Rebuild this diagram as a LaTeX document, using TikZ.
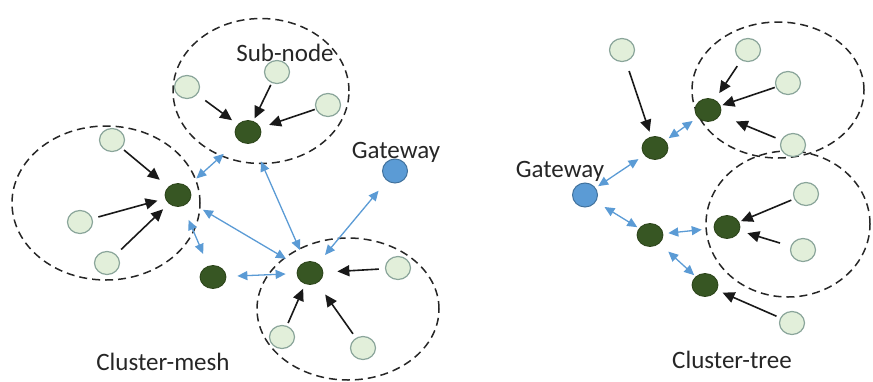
\documentclass[tikz,border=0pt]{standalone}
\usepackage{fontspec}
\setmainfont{Carlito}
\usetikzlibrary{shapes.geometric,arrows.meta}
\definecolor{leaffill}{HTML}{E2EFDA}
\definecolor{leafedge}{HTML}{8AA59A}
\definecolor{headfill}{HTML}{375623}
\definecolor{headedge}{HTML}{2A4218}
\definecolor{gwfill}{HTML}{5B9BD5}
\definecolor{gwedge}{HTML}{41719C}
\definecolor{linkblue}{HTML}{5B9BD5}
\definecolor{txt}{HTML}{262626}
\tikzset{
  leaf/.style={ellipse, draw=leafedge, fill=leaffill, line width=1.2pt,
    minimum width=25pt, minimum height=23pt, inner sep=0pt},
  head/.style={ellipse, draw=headedge, fill=headfill, line width=0.8pt,
    minimum width=26pt, minimum height=23pt, inner sep=0pt},
  gw/.style={ellipse, draw=gwedge, fill=gwfill, line width=1pt,
    minimum width=25pt, minimum height=24pt, inner sep=0pt},
  cluster/.style={ellipse, draw=black!85, dash pattern=on 8pt off 5pt,
    line width=1.5pt, inner sep=0pt},
  feed/.style={-{Triangle[length=12pt,width=11pt]}, line width=1.6pt, black!90,
    shorten <=6pt, shorten >=6pt},
  link/.style={{Triangle[length=10pt,width=9pt]}-{Triangle[length=10pt,width=9pt]},
    line width=1.3pt, linkblue, shorten <=11pt, shorten >=11pt},
  lbl/.style={font=\fontsize{25}{30}\selectfont, text=txt, anchor=base, inner sep=0pt}
}
\begin{document}
\begin{tikzpicture}[x=1pt,y=-1pt]
\useasboundingbox (0,0) rectangle (873,381);

% ---------- cluster-mesh ----------
\node[cluster, minimum width=176pt, minimum height=145pt] (mTop) at (261,91) {};
\node[cluster, minimum width=188pt, minimum height=154pt] (mLeft) at (106,203) {};
\node[cluster, minimum width=182pt, minimum height=142pt] (mBot) at (348,309) {};

\node[head] (hT) at (248,132) {};
\node[head] (hL) at (178,195) {};
\node[head] (hM) at (213,277) {};
\node[head] (hB) at (310,273) {};
\node[gw] (gwM) at (395,171) {};

\node[leaf] (t1) at (187,87) {};
\node[leaf] (t2) at (277,72) {};
\node[leaf] (t3) at (328,105) {};
\node[leaf] (l1) at (112,140) {};
\node[leaf] (l2) at (80,222) {};
\node[leaf] (l3) at (107,263) {};
\node[leaf] (b1) at (398,268) {};
\node[leaf] (b2) at (282,337) {};
\node[leaf] (b3) at (363,348) {};

\draw[feed, shorten <=10pt, shorten >=7pt] (t1) -- (hT);
\draw[feed, shorten <=2pt, shorten >=3pt] (t2) -- (hT);
\draw[feed, shorten <=1pt, shorten >=9pt] (t3) -- (hT);
\draw[feed, shorten <=3pt, shorten >=11pt] (l1) -- (hL);
\draw[feed, shorten <=6pt, shorten >=8pt] (l2) -- (hL);
\draw[feed, shorten <=7pt, shorten >=8pt] (l3) -- (hL);
\draw[feed, shorten <=6pt, shorten >=14pt] (b1) -- (hB);
\draw[feed, shorten <=3pt, shorten >=5pt] (b2) -- (hB);
\draw[feed, shorten <=5pt, shorten >=14pt] (b3) -- (hB);

\draw[link, shorten <=20pt, shorten >=12pt] (hT) -- (hL);
\draw[link, shorten <=20pt, shorten >=13pt] (hT) -- (hB);
\draw[link, shorten <=16pt, shorten >=15pt] (hL) -- (hB);
\draw[link, shorten <=15pt, shorten >=13pt] (hL) -- (hM);
\draw[link] (hM) -- (hB);
\draw[link, shorten <=11pt, shorten >=13pt] (hB) -- (gwM);

\node[lbl] (subLbl) at (285,61) {Sub-node};
\node[lbl] (gwLblM) at (396,158) {Gateway};
\node[lbl] (meshLbl) at (163,370) {Cluster-mesh};

% ---------- cluster-tree ----------
\node[cluster, minimum width=172pt, minimum height=136pt] (tTop) at (778,90) {};
\node[cluster, minimum width=164pt, minimum height=146pt] (tBot) at (788,224) {};

\node[gw] (gwT) at (585,195) {};
\node[head] (r1) at (655,148) {};
\node[head] (r2) at (708,110) {};
\node[head] (r3) at (650,235) {};
\node[head] (r4) at (727,227) {};
\node[head] (r5) at (705,285) {};

\node[leaf] (s0) at (622,50) {};
\node[leaf] (s1) at (748,50) {};
\node[leaf] (s2) at (788,83) {};
\node[leaf] (s3) at (793,145) {};
\node[leaf] (s4) at (806,194) {};
\node[leaf] (s5) at (803,250) {};
\node[leaf] (s6) at (792,323) {};

\draw[feed, shorten <=10pt, shorten >=5pt] (s0) -- (r1);
\draw[feed, shorten <=7pt, shorten >=8pt] (s1) -- (r2);
\draw[feed, shorten <=1pt, shorten >=2pt] (s2) -- (r2);
\draw[feed, shorten <=6pt, shorten >=17pt] (s3) -- (r2);
\draw[feed, shorten <=3pt, shorten >=2pt] (s4) -- (r4);
\draw[feed, shorten <=11pt, shorten >=8pt] (s5) -- (r4);
\draw[feed, shorten <=4pt, shorten >=6pt] (s6) -- (r5);

\draw[link, shorten <=3pt, shorten >=7pt] (gwT) -- (r1);
\draw[link, shorten <=4pt, shorten >=6pt] (r1) -- (r2);
\draw[link, shorten <=10pt, shorten >=2pt] (gwT) -- (r3);
\draw[link, shorten <=5pt, shorten >=12pt] (r3) -- (r4);
\draw[link, shorten <=12pt, shorten >=2pt] (r3) -- (r5);

\node[lbl] (gwLblT) at (560,177) {Gateway};
\node[lbl] (treeLbl) at (732,368) {Cluster-tree};
\end{tikzpicture}
\end{document}
